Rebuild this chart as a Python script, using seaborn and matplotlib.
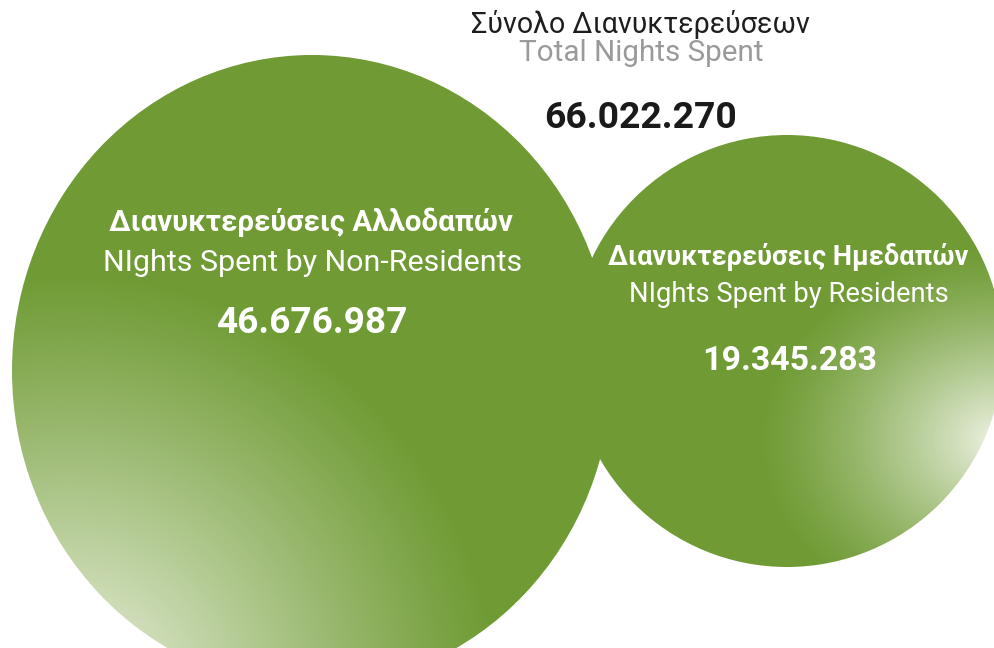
import numpy as np
import pandas as pd
import seaborn as sns
import matplotlib
matplotlib.use("Agg")
import matplotlib.pyplot as plt
from matplotlib.patches import Ellipse

# ---- data -------------------------------------------------------------
categories_el = ["Διανυκτερεύσεις Αλλοδαπών", "Διανυκτερεύσεις Ημεδαπών"]
categories_en = ["NIghts Spent by Non-Residents", "NIghts Spent by Residents"]
nights = [46676987, 19345283]
total_title_el = "Σύνολο Διανυκτερεύσεων"
total_title_en = "Total Nights Spent"

df = pd.DataFrame({"label_el": categories_el, "label_en": categories_en, "nights": nights})
total_nights = int(df["nights"].sum())


def fmt(v):
    return f"{v:,}".replace(",", ".")


# ---- layout (pixel canvas) --------------------------------------------
W, H = 995, 648
bubbles = [
    # centre x, centre y, radius x, radius y, glow centre, glow reach, glow power
    dict(cx=312, cy=371, rx=300, ry=316, gx=70, gy=700, reach=430, power=1.1, gsy=1.0),
    dict(cx=787, cy=351, rx=216, ry=216, gx=1000, gy=440, reach=245, power=1.3, gsy=0.8),
]
# text anchors: centre x, baseline y, target width in px
bubble_text = [
    [(311, 231, 404), (313, 271, 417), (312, 333, 192)],
    [(788, 265, 360), (789, 302, 318), (790, 370, 175)],
]
top_text = [(640, 33, 340), (641, 61, 244), (641, 128, 193)]

GREEN = "#6f9b34"
LIGHT = "#eef3e4"

sns.set_theme(style="white")
plt.rcParams["font.family"] = ["Roboto", "DejaVu Sans"]

fig = plt.figure(figsize=(W / 100, H / 100), dpi=100)
ax = fig.add_axes([0, 0, 1, 1])
ax.set_xlim(0, W)
ax.set_ylim(H, 0)
ax.set_axis_off()
fig.patch.set_facecolor("white")

cmap = sns.blend_palette([GREEN, LIGHT], as_cmap=True)
X, Y = np.meshgrid(np.arange(W) + 0.5, np.arange(H) + 0.5)

for b in bubbles:
    ell = Ellipse((b["cx"], b["cy"]), 2 * b["rx"], 2 * b["ry"], fc="none", ec="none")
    ax.add_patch(ell)
    d = np.hypot(X - b["gx"], (Y - b["gy"]) / b["gsy"])
    f = np.clip(1 - d / b["reach"], 0, 1) ** b["power"]
    im = ax.imshow(f, cmap=cmap, vmin=0, vmax=1, extent=(0, W, H, 0),
                   origin="upper", interpolation="bilinear", zorder=1)
    im.set_clip_path(ell)

renderer = fig.canvas.get_renderer()


def place(x, y, s, width, **kw):
    t = ax.text(x, y, s, ha="center", va="baseline", fontsize=20, zorder=5, **kw)
    w = t.get_window_extent(renderer).width
    t.set_fontsize(20 * width / w)
    return t


for (i, row), anchors in zip(df.iterrows(), bubble_text):
    (x1, y1, w1), (x2, y2, w2), (x3, y3, w3) = anchors
    place(x1, y1, row["label_el"], w1, color="white", fontweight="bold")
    place(x2, y2, row["label_en"], w2, color="white")
    place(x3, y3, fmt(row["nights"]), w3, color="white", fontweight="bold")

(x1, y1, w1), (x2, y2, w2), (x3, y3, w3) = top_text
place(x1, y1, total_title_el, w1, color="#1e1e1e")
place(x2, y2, total_title_en, w2, color="#9a9a9a")
place(x3, y3, fmt(total_nights), w3, color="#1a1a1a", fontweight="bold")

fig.savefig("out.png", dpi=100, facecolor="white")
